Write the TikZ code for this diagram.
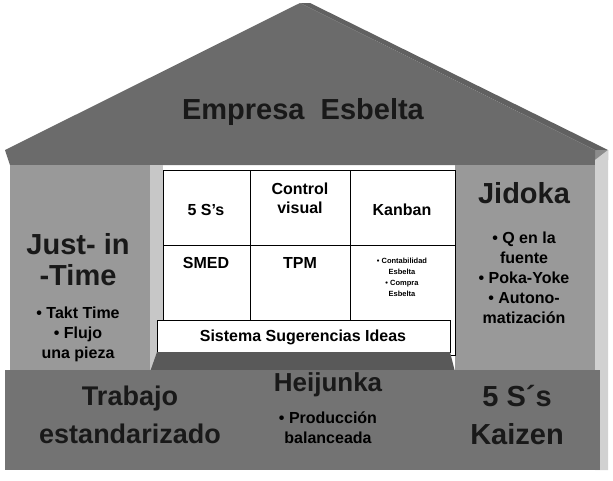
\documentclass[tikz,border=0pt]{standalone}
\usepackage{fontspec}
\setmainfont{Liberation Sans}
\begin{document}
\begin{tikzpicture}[x=1pt,y=-1pt,
  big/.style={font=\bfseries\fontsize{29}{31}\selectfont, align=center, text=black!90},
  mid/.style={font=\bfseries\fontsize{16}{20}\selectfont, align=center},
  cell/.style={font=\bfseries\fontsize{16}{19}\selectfont, align=center},
  tiny/.style={font=\bfseries\fontsize{7.5}{11}\selectfont, align=center}]
\useasboundingbox (0,0) rectangle (613,480);
\fill[white] (0,0) rectangle (613,480);
% roof
\fill[black!62] (300,3) -- (595,150) -- (608,150) -- (310,3) -- cycle;
\fill[black!45] (595,150) -- (608,150) -- (608,160) -- (595,165) -- cycle;
\fill[black!58] (300,3) -- (5,150) -- (10,165) -- (595,165) -- (595,150) -- cycle;
\node[big] (roof) at (303,112) {Empresa\ \ Esbelta};
% pillars
\fill[black!40] (10,165) rectangle (150,370);
\fill[black!22] (150,165) rectangle (163,370);
\fill[black!40] (455,165) rectangle (595,370);
\fill[black!18] (595,160) -- (608,150) -- (608,470) -- (595,470) -- cycle;
% grid
\draw[fill=white, line width=1pt] (163,170) rectangle (455,355);
\draw[line width=1pt] (163,245) -- (455,245) (250,170) -- (250,355) (350,170) -- (350,355);
\node[cell] (c1) at (206,210) {5 S's};
\node[cell] (c2) at (300,198) {Control\\visual};
\node[cell] (c3) at (402,210) {Kanban};
\node[cell] (c4) at (206,263) {SMED};
\node[cell] (c5) at (300,263) {TPM};
\node[tiny] (c6) at (402,277) {• Contabilidad\\Esbelta\\• Compra\\Esbelta};
\draw[fill=white, line width=1pt] (157,320) rectangle (450,352);
\node[cell] (sis) at (303,337) {Sistema Sugerencias Ideas};
\node[big] (jit) at (78,260) {Just- in\\-Time};
\node[mid] (jitb) at (78,334) {• Takt Time\\• Flujo\\una pieza};
\node[big] (jid) at (524,193) {Jidoka};
\node[mid] (jidb) at (524,278) {• Q en la\\fuente\\• Poka-Yoke\\• Autono-\\matización};
% base
\fill[black!65] (157,352) -- (450,352) -- (455,372) -- (150,372) -- cycle;
\fill[black!55] (5,370) rectangle (600,470);
\node[big, font=\bfseries\fontsize{27}{38}\selectfont] (tr) at (130,415) {Trabajo\\estandarizado};
\node[big, font=\bfseries\fontsize{26}{28}\selectfont] (hei) at (328,385) {Heijunka};
\node[mid] (heib) at (328,428) {• Producción\\balanceada};
\node[big, font=\bfseries\fontsize{29}{38}\selectfont] (ks) at (517,415) {5 S´s\\Kaizen};
\end{tikzpicture}
\end{document}
